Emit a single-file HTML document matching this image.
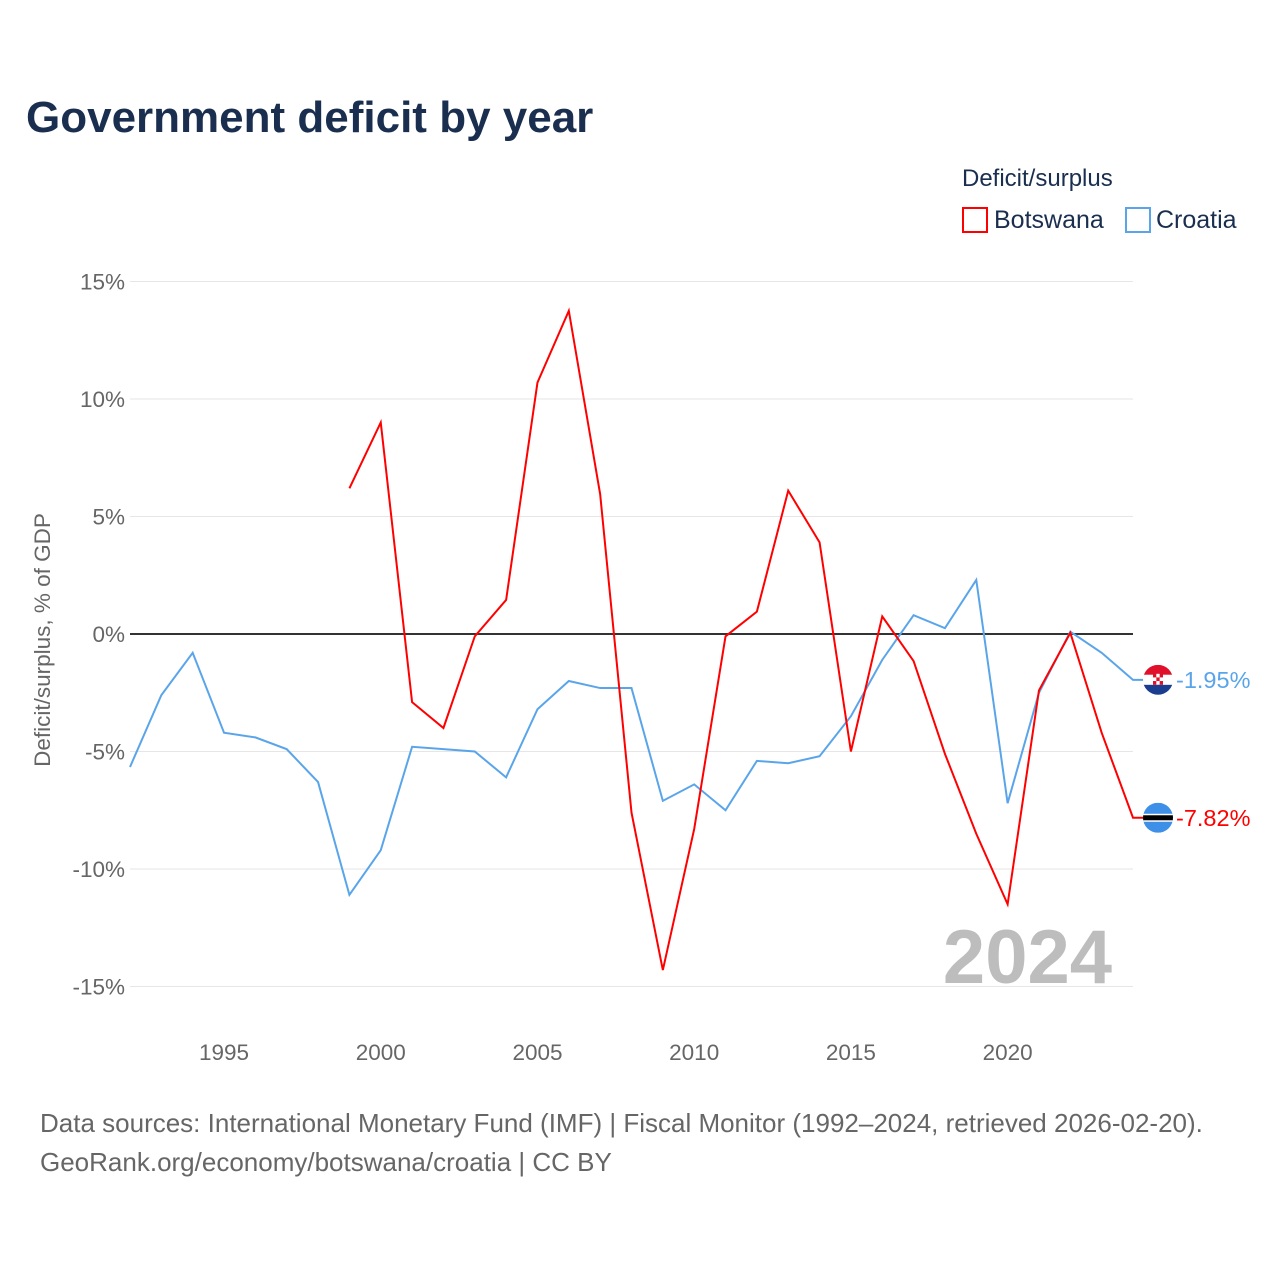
<!DOCTYPE html>
<html><head><meta charset="utf-8">
<style>
body{margin:0;background:#fff;font-family:"Liberation Sans",sans-serif;}
svg text{font-family:"Liberation Sans",sans-serif;}
</style></head>
<body>
<svg id="chart" width="1280" height="1280" xmlns="http://www.w3.org/2000/svg">
<rect width="1280" height="1280" fill="#fff"/>
<text x="26" y="132" font-size="44" font-weight="bold" fill="#1a2e4f">Government deficit by year</text>
<text x="962" y="186" font-size="24" fill="#1a2e4f">Deficit/surplus</text>
<g><rect x="963" y="208" width="24" height="24" fill="none" stroke="#ff0000" stroke-width="2"/><text x="994" y="228" font-size="25" fill="#1a2e4f">Botswana</text></g>
<g><rect x="1126" y="208" width="24" height="24" fill="none" stroke="#5aa5ea" stroke-width="2"/><text x="1156" y="228" font-size="25" fill="#1a2e4f">Croatia</text></g>
<text transform="translate(50,640) rotate(-90)" text-anchor="middle" font-size="22.5" fill="#666">Deficit/surplus, % of GDP</text>
<g id="grid"></g>
<text x="1112" y="983" text-anchor="end" font-size="76" font-weight="bold" fill="#bdbdbd">2024</text>
<g id="series"></g>
<text x="40" y="1132" font-size="26" fill="#666">Data sources: International Monetary Fund (IMF) | Fiscal Monitor (1992–2024, retrieved 2026-02-20).</text>
<text x="40" y="1171" font-size="26" fill="#666">GeoRank.org/economy/botswana/croatia | CC BY</text>
</svg>
<script>
const years=[];for(let y=1992;y<=2024;y++)years.push(y);
const croatia=[-5.66,-2.6,-0.8,-4.2,-4.4,-4.9,-6.3,-11.1,-9.2,-4.8,-4.9,-5.0,-6.1,-3.2,-2.0,-2.3,-2.3,-7.1,-6.4,-7.5,-5.4,-5.5,-5.2,-3.5,-1.1,0.8,0.25,2.3,-7.2,-2.5,0.1,-0.8,-1.95];
const botswanaYears=[1999,2000,2001,2002,2003,2004,2005,2006,2007,2008,2009,2010,2011,2012,2013,2014,2015,2016,2017,2018,2019,2020,2021,2022,2023,2024];
const botswana=[6.2,9.0,-2.9,-4.0,-0.1,1.45,10.7,13.75,5.95,-7.6,-14.3,-8.3,-0.1,0.95,6.1,3.9,-5.0,0.75,-1.15,-5.1,-8.5,-11.5,-2.4,0.05,-4.2,-7.82];
const yTicks=[15,10,5,0,-5,-10,-15];
const xTicks=[1995,2000,2005,2010,2015,2020];
const NS="http://www.w3.org/2000/svg";
const X=v=>130+(v-1992)*(1133-130)/32;
const Y=v=>634-v*23.5;
function mk(t,a,p){const e=document.createElementNS(NS,t);for(const k in a)e.setAttribute(k,a[k]);p.appendChild(e);return e;}
const grid=document.getElementById('grid');
yTicks.forEach(t=>{
 const l=mk('line',{x1:130,x2:1133,y1:Y(t),y2:Y(t),stroke:t===0?'#333':'#e6e6e6','stroke-width':t===0?2:1},grid);
 
 
 const tx=mk('text',{x:125,y:Y(t)+8,'text-anchor':'end','font-size':22.5,fill:'#666'},grid);
 tx.textContent=t+'%';
 
 
});
xTicks.forEach(t=>{
 const tx=mk('text',{x:X(t),y:1060,'text-anchor':'middle','font-size':22.5,fill:'#666'},grid);
 tx.textContent=t;
 
 
});
const s=document.getElementById('series');
function line(xs,vs,col,name){
 let d=xs.map((x,i)=>(i?'L':'M')+X(x)+','+Y(vs[i])).join(' ');
 d+=' L1146,'+Y(vs[vs.length-1]);
 const p=mk('path',{d:d,fill:'none',stroke:col,'stroke-width':2},s);
 
 
}
line(years,croatia,'#5aa5ea','croatia-line');
line(botswanaYears,botswana,'#ff0000','botswana-line');
function flag(v,kind,col,name){
 const cy=Y(v),cx=1158;
 const g=mk('g',{},s);
 
 
 const id='c'+kind;
 const cp=mk('clipPath',{id:id},g);mk('circle',{cx:cx,cy:cy,r:15},cp);
 const gg=mk('g',{'clip-path':'url(#'+id+')'},g);
 if(kind==='hr'){
  mk('rect',{x:cx-15,y:cy-15,width:30,height:10,fill:'#e0102c'},gg);
  mk('rect',{x:cx-15,y:cy-5,width:30,height:10,fill:'#fff'},gg);
  mk('rect',{x:cx-15,y:cy+5,width:30,height:10,fill:'#1a3d8f'},gg);
  mk('rect',{x:cx-5,y:cy-6,width:10,height:11,fill:'#e0102c'},gg);
  for(let i=0;i<3;i++)for(let j=0;j<3;j++)if((i+j)%2)mk('rect',{x:cx-5+i*3.33,y:cy-6+j*3.6,width:3.33,height:3.6,fill:'#fff'},gg);
 }else{
  mk('rect',{x:cx-15,y:cy-15,width:30,height:30,fill:'#3d8fe8'},gg);
  mk('rect',{x:cx-15,y:cy-4,width:30,height:8,fill:'#fff'},gg);
  mk('rect',{x:cx-15,y:cy-2.5,width:30,height:5,fill:'#000'},gg);
 }
 const t=mk('text',{x:1176,y:cy+8,'font-size':23.5,fill:col},g);
 t.textContent=v.toFixed(2)+'%';
}
flag(croatia[croatia.length-1],'hr','#5aa5ea','croatia-end-label');
flag(botswana[botswana.length-1],'bw','#ff0000','botswana-end-label');
</script>
</body></html>
